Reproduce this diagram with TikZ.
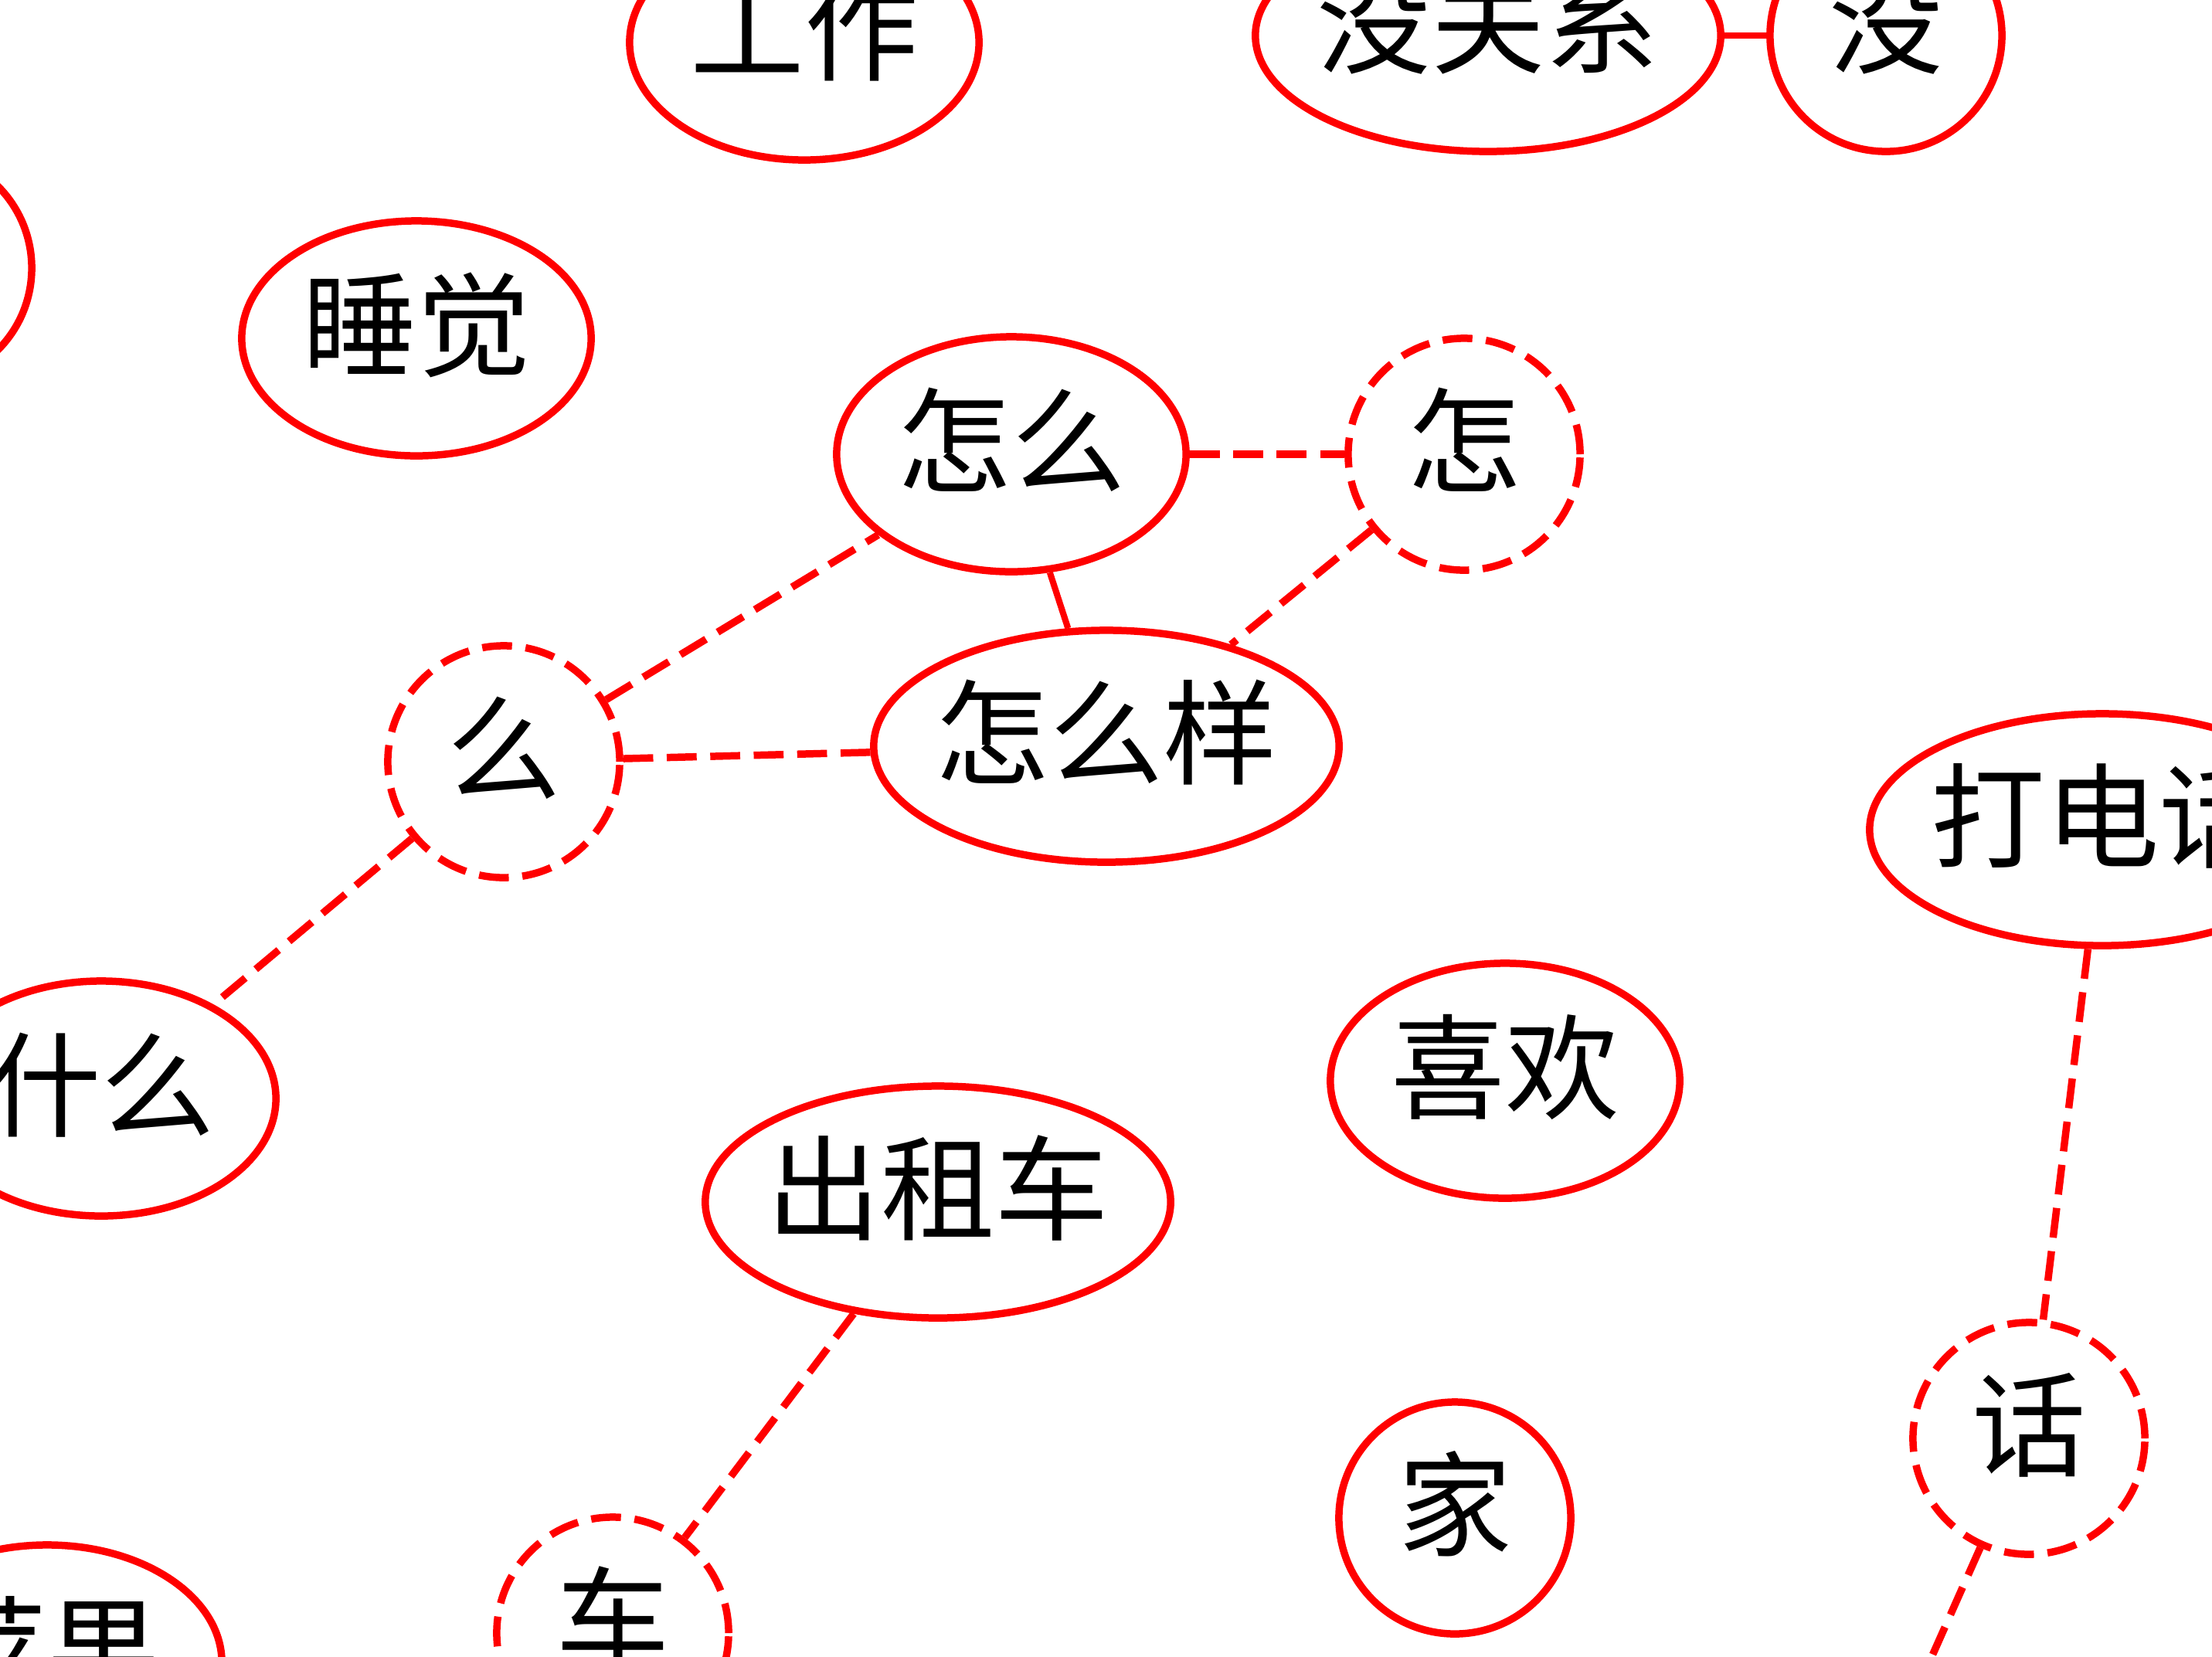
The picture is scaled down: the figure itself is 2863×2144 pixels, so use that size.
\documentclass[tikz,border=0pt]{standalone}
\usepackage{fontspec}
\newfontfamily\cjk{Noto Sans CJK SC}
\usetikzlibrary{shapes.geometric}
\tikzset{
    word/.style={
        ellipse,
        draw=red,
        line width=2.7pt,
        inner sep=-5mm,
        text height=30pt,
        text depth=8pt,
        font=\cjk\fontsize{42}{42}\selectfont
    },
    onechar/.style={minimum width=3.0cm, minimum height=3.0cm},
    twochar/.style={minimum width=4.52cm, minimum height=3.04cm},
    threechar/.style={minimum width=6.02cm, minimum height=3.0cm},
    part/.style={word, dash pattern=on 11pt off 5pt},
    link/.style={draw=red, line width=2.3pt},
    dashlink/.style={link, line width=2.7pt, dash pattern=on 11pt off 5pt}
}

\begin{document}
\begin{tikzpicture}[x=0.01cm, y=-0.01cm]

\clip (0,0) rectangle (2863,2144);

% top row
\node[word, twochar] (gongzuo) at (1041,55) {工作};
\node[word, threechar] (meiguanxi) at (1926,46) {没关系};
\node[word, onechar] (mei) at (2441,46) {没};
\node[word, onechar] (leftcut) at (-109,347) {};
\node[word, twochar] (shuijiao) at (539,438) {睡觉};

% zenme group
\node[word, twochar] (zenme) at (1309,588) {怎么};
\node[part, onechar] (zen) at (1895,588) {怎};
\node[word, threechar] (zenmeyang) at (1432,966) {怎么样};
\node[part, onechar] (me) at (652,986) {么};
\node[word, twochar] (shenme) at (131,1422) {什么};

% lower part
\node[word, twochar] (xihuan) at (1948,1399) {喜欢};
\node[word, threechar] (chuzuche) at (1214,1556) {出租车};
\node[part, onechar] (che) at (793,2114) {车};
\node[word, twochar] (pingguo) at (61,2152) {苹果};
\node[word, onechar] (jia) at (1883,1965) {家};
\node[word, threechar] (dadianhua) at (2721,1074) {打电话};
\node[part, onechar] (hua) at (2626,1862) {话};
\coordinate (huabelow) at (2440,2280);

\draw[link] (meiguanxi) -- (mei);
\draw[link] (zenme) -- (zenmeyang);
\draw[dashlink] (zenme) -- (zen);
\draw[dashlink] (zen) -- (zenmeyang);
\draw[dashlink] (me) -- (zenme);
\draw[dashlink] (me) -- (zenmeyang);
\draw[dashlink] (me) -- (shenme);
\draw[dashlink] (chuzuche) -- (che);
\draw[dashlink] (dadianhua) -- (hua);
\draw[dashlink] (hua) -- (huabelow);

\end{tikzpicture}
\end{document}
